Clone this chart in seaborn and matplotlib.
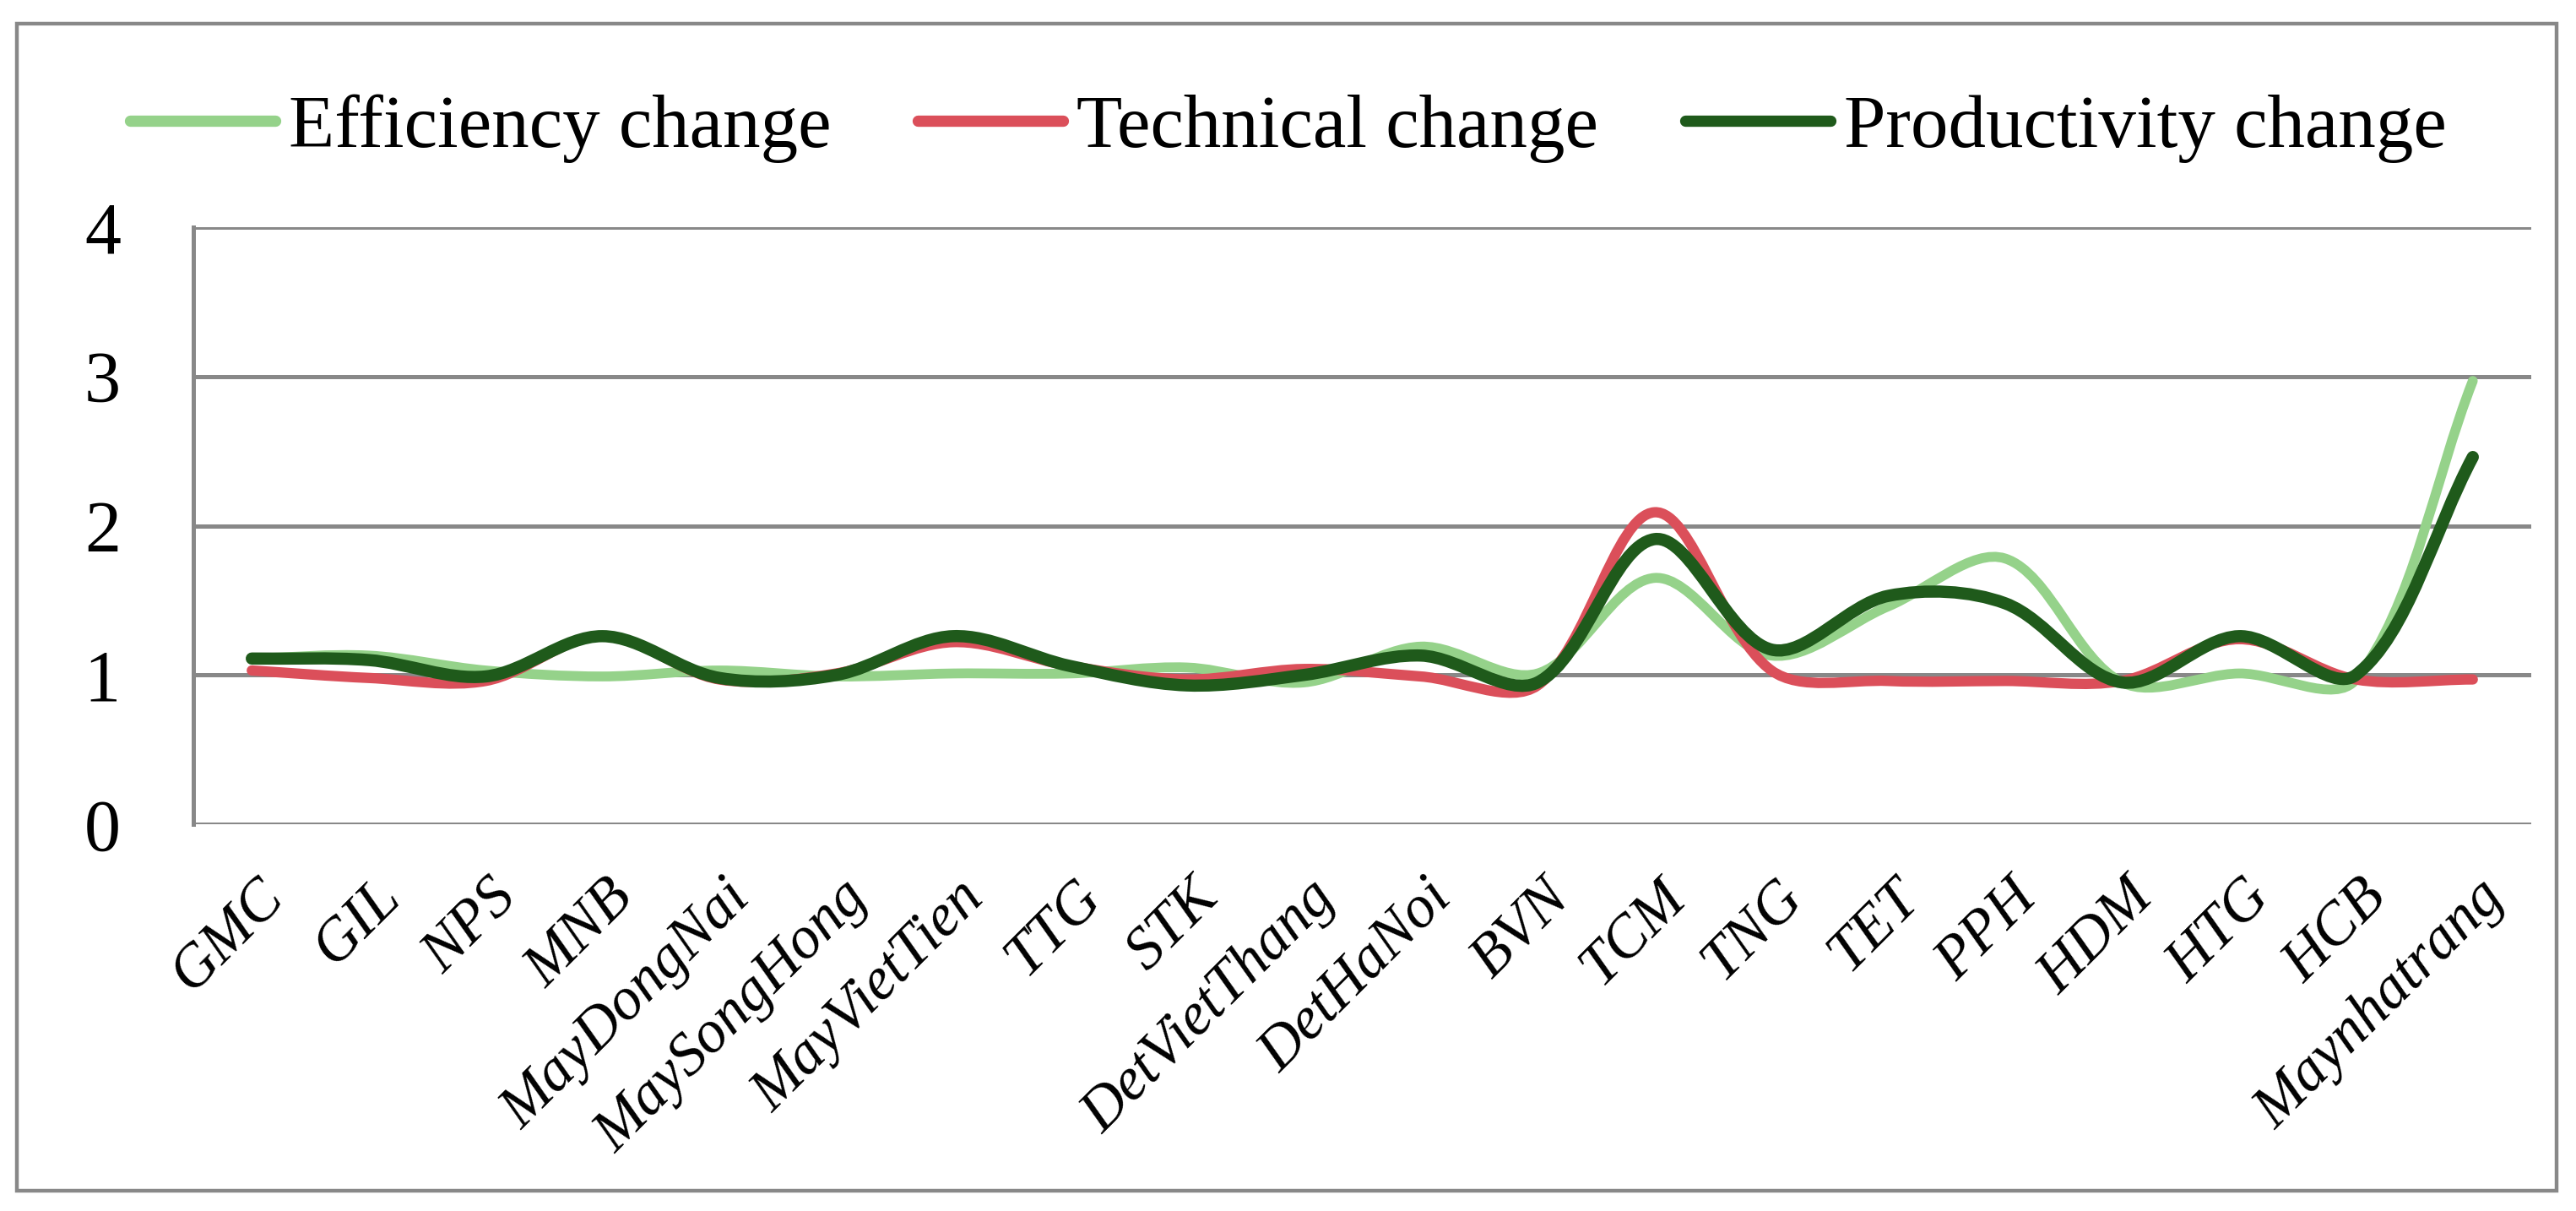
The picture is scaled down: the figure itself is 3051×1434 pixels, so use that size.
import matplotlib
matplotlib.use('Agg')
import matplotlib.pyplot as plt
import matplotlib.transforms as mtransforms
from matplotlib.path import Path
from matplotlib.patches import PathPatch, Rectangle
from matplotlib.lines import Line2D
import numpy as np
import pandas as pd
import seaborn as sns

firms = ['GMC', 'GIL', 'NPS', 'MNB', 'MayDongNai', 'MaySongHong', 'MayVietTien',
         'TTG', 'STK', 'DetVietThang', 'DetHaNoi', 'BVN', 'TCM', 'TNG', 'TET',
         'PPH', 'HDM', 'HTG', 'HCB', 'Maynhatrang']
efficiency = [1.11, 1.13, 1.03, 0.99, 1.03, 0.99, 1.01, 1.01, 1.05, 0.95,
              1.19, 1.01, 1.65, 1.13, 1.46, 1.78, 0.95, 1.01, 0.97, 2.97]
technical = [1.03, 0.98, 0.96, 1.26, 0.97, 1.01, 1.22, 1.06, 0.97, 1.04,
             0.99, 0.93, 2.09, 1.03, 0.96, 0.96, 0.96, 1.24, 0.97, 0.97]
productivity = [1.11, 1.10, 0.99, 1.26, 0.98, 1.00, 1.26, 1.06, 0.93, 1.00,
                1.13, 0.95, 1.91, 1.17, 1.53, 1.48, 0.95, 1.26, 1.00, 2.46]

series_names = ['Efficiency change', 'Technical change', 'Productivity change']
colors = ['#95D28A', '#DB4F5A', '#1F5A1B']
widths = [4.2, 4.4, 5.2]

df = pd.DataFrame({
    'firm': firms * 3,
    'value': efficiency + technical + productivity,
    'series': np.repeat(series_names, len(firms)),
})

sns.set_style('white')
plt.rcParams['font.family'] = ['Liberation Serif', 'DejaVu Serif']
plt.rcParams['text.color'] = 'black'
grid_color = '#888888'


def smooth_path(xy, trans):
    # Excel-like smoothed line: cubic Bezier through every point,
    # tangents weighted by segment length on screen
    pts = trans.transform(xy)
    ext = np.vstack([pts[0], pts, pts[-1]])
    verts = [pts[0]]
    codes = [Path.MOVETO]
    for i in range(len(pts) - 1):
        p0, p1, p2, p3 = ext[i], ext[i + 1], ext[i + 2], ext[i + 3]
        d01 = np.hypot(*(p1 - p0))
        d12 = np.hypot(*(p2 - p1))
        d23 = np.hypot(*(p3 - p2))
        w1 = d12 / (d01 + d12) if d01 + d12 > 0 else 0.5
        w2 = d12 / (d12 + d23) if d12 + d23 > 0 else 0.5
        c1 = p1 + (p2 - p0) * w1 / 3
        c2 = p2 - (p3 - p1) * w2 / 3
        verts += [c1, c2, p2]
        codes += [Path.CURVE4] * 3
    return Path(trans.inverted().transform(np.array(verts)), codes)


fig = plt.figure(figsize=(15.255, 7.17), dpi=200)
ax = fig.add_axes([229 / 3051, 1 - 976 / 1434, (2998 - 229) / 3051, (976 - 269) / 1434])

sns.lineplot(data=df, x='firm', y='value', hue='series', palette=colors,
             sort=False, legend=False, ax=ax)

ax.set_xlim(-0.5, len(firms) - 0.5)
ax.set_ylim(0, 4)

for line, lw, z in zip(list(ax.lines), widths, [3, 4, 5]):
    xy = np.asarray(line.get_xydata(), dtype=float)
    patch = PathPatch(smooth_path(xy, ax.transData), facecolor='none',
                      edgecolor=line.get_color(), lw=lw, capstyle='round',
                      joinstyle='round', zorder=z)
    ax.add_patch(patch)
    line.remove()

ax.set_yticks([0, 1, 2, 3, 4])
ax.set_xticks(range(len(firms)))
ax.set_xticklabels(firms)
ax.set_xlabel('')
ax.set_ylabel('')

ax.grid(axis='y', color=grid_color, lw=1.8)
ax.grid(axis='x', visible=False)
ax.set_axisbelow(True)
for side in ['top', 'right', 'bottom']:
    ax.spines[side].set_visible(False)
ax.spines['left'].set_color(grid_color)
ax.spines['left'].set_linewidth(1.8)

ax.tick_params(axis='y', length=0, pad=31, labelsize=31, labelcolor='black')
ax.tick_params(axis='x', length=0, pad=27.7, labelsize=25.5, labelcolor='black')
offset = mtransforms.ScaledTranslation(27 / 200, 0, fig.dpi_scale_trans)
for lab in ax.get_xticklabels():
    lab.set_rotation(45)
    lab.set_ha('right')
    lab.set_va('center')
    lab.set_rotation_mode('anchor')
    lab.set_fontstyle('italic')
    lab.set_transform(lab.get_transform() + offset)

handles = [Line2D([], [], color=c, lw=4.8, solid_capstyle='round') for c in colors]
fig.legend(handles, series_names, loc='center left',
           bbox_to_anchor=(154 / 3051, 1 - 152 / 1434), ncol=3, frameon=False,
           fontsize=32, handlelength=1.93, handletextpad=0.18, columnspacing=1.16,
           borderpad=0, borderaxespad=0, labelcolor='black')

fig.patches.append(Rectangle((20 / 3051, 1 - 1410 / 1434), (3028 - 20) / 3051,
                             (1410 - 28) / 1434, transform=fig.transFigure,
                             fill=False, edgecolor=grid_color, lw=1.6))

fig.savefig('out.png', dpi=200, facecolor='white')
